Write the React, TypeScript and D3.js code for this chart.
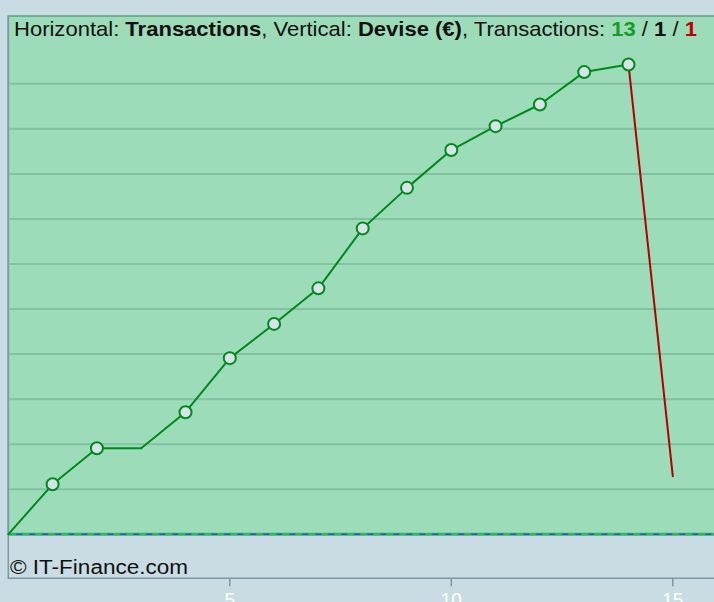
import React, { useEffect, useRef } from 'react';
import * as d3 from 'd3';

// transaction index and running balance (€)
const transactions = [0, 1, 2, 3, 4, 5, 6, 7, 8, 9, 10, 11, 12, 13, 14, 15];
const balance = [0, 111, 191, 191, 271, 391, 467, 546, 679, 769, 853, 906, 954, 1026, 1043, 129];
const gridValues = [100, 200, 300, 400, 500, 600, 700, 800, 900, 1000];
const xTicks = [5, 10, 15];

const W = 714;
const H = 602;

const App: React.FC = () => {
  const svgRef = useRef<SVGSVGElement>(null);

  useEffect(() => {
    if (!svgRef.current) return;
    const svg = d3.select(svgRef.current);
    svg.selectAll('*').remove();

    const left = 8.3;
    const plotTop = 16;
    const zeroY = 534.3;
    const axisY = 578.3;

    const x = d3.scaleLinear().domain([0, 15]).range([left, left + 15 * 44.3]);
    const y = d3.scaleLinear().domain([0, 1000]).range([zeroY, zeroY - 450.5]);

    // page background
    svg.append('rect').attr('width', W).attr('height', H).attr('fill', '#c9dce3');

    // green plot area
    svg.append('rect')
      .attr('x', left)
      .attr('y', plotTop)
      .attr('width', W - left + 2)
      .attr('height', zeroY - plotTop)
      .attr('fill', '#9ddcb8')
      .attr('stroke', '#5f9f82')
      .attr('stroke-width', 1.5);

    // horizontal grid
    svg.append('g')
      .selectAll('line')
      .data(gridValues)
      .enter().append('line')
      .attr('x1', left + 1)
      .attr('x2', W)
      .attr('y1', d => y(d))
      .attr('y2', d => y(d))
      .attr('stroke', '#83c2a0')
      .attr('stroke-width', 2);

    // zero line: green with blue dashes
    svg.append('line')
      .attr('x1', left).attr('x2', W)
      .attr('y1', y(0)).attr('y2', y(0))
      .attr('stroke', '#2fb862').attr('stroke-width', 3);
    svg.append('line')
      .attr('x1', left + 8).attr('x2', W)
      .attr('y1', y(0)).attr('y2', y(0))
      .attr('stroke', '#4646d8').attr('stroke-width', 1.5)
      .attr('stroke-dasharray', '6,7');

    // left + bottom frame
    svg.append('path')
      .attr('d', `M${left},${plotTop} V${axisY} H${W}`)
      .attr('fill', 'none')
      .attr('stroke', '#7d98a3')
      .attr('stroke-width', 1.5);

    // x axis ticks
    const ticks = svg.append('g');
    ticks.selectAll('line')
      .data(xTicks)
      .enter().append('line')
      .attr('x1', d => x(d)).attr('x2', d => x(d))
      .attr('y1', axisY).attr('y2', axisY + 8)
      .attr('stroke', '#7d98a3')
      .attr('stroke-width', 1.5);
    ticks.selectAll('text')
      .data(xTicks)
      .enter().append('text')
      .attr('x', d => x(d))
      .attr('y', axisY + 28)
      .attr('text-anchor', 'middle')
      .attr('fill', '#ffffff')
      .style('font-family', '"Liberation Sans", Arial, sans-serif')
      .style('font-size', '19px')
      .text(d => d);

    // balance line, segment colour by direction
    const pts = transactions.map((t, i) => ({ t, v: balance[i] }));
    const segs = pts.slice(1).map((p, i) => ({ a: pts[i], b: p }));
    svg.append('g')
      .selectAll('line')
      .data(segs)
      .enter().append('line')
      .attr('x1', d => x(d.a.t)).attr('y1', d => y(d.a.v))
      .attr('x2', d => x(d.b.t)).attr('y2', d => y(d.b.v))
      .attr('stroke', d => (d.b.v < d.a.v ? '#b20000' : '#00891c'))
      .attr('stroke-width', 2)
      .attr('stroke-linecap', 'round');

    // markers on winning transactions
    svg.append('g')
      .selectAll('circle')
      .data(segs.filter(d => d.b.v > d.a.v))
      .enter().append('circle')
      .attr('cx', d => x(d.b.t))
      .attr('cy', d => y(d.b.v))
      .attr('r', 6)
      .attr('fill', '#d7e3e9')
      .attr('stroke', '#00891c')
      .attr('stroke-width', 2);

    // header
    const head = svg.append('text')
      .attr('x', 14)
      .attr('y', 36)
      .attr('fill', '#111')
      .attr('textLength', 683)
      .attr('lengthAdjust', 'spacingAndGlyphs')
      .style('font-family', '"Liberation Sans", Arial, sans-serif')
      .style('font-size', '21px');
    const parts: [string, boolean, string][] = [
      ['Horizontal: ', false, '#111'],
      ['Transactions', true, '#111'],
      [', Vertical: ', false, '#111'],
      ['Devise (€)', true, '#111'],
      [', Transactions: ', false, '#111'],
      ['13', true, '#1a9a2a'],
      [' / ', false, '#111'],
      ['1', true, '#111'],
      [' / ', false, '#111'],
      ['1', true, '#c00000'],
    ];
    parts.forEach(([s, b, c]) => {
      head.append('tspan')
        .attr('fill', c)
        .style('font-weight', b ? 'bold' : 'normal')
        .text(s);
    });

    // footer
    svg.append('text')
      .attr('x', 10)
      .attr('y', 574)
      .attr('fill', '#111')
      .attr('textLength', 178)
      .attr('lengthAdjust', 'spacingAndGlyphs')
      .style('font-family', '"Liberation Sans", Arial, sans-serif')
      .style('font-size', '20px')
      .text('© IT-Finance.com');
  }, []);

  return (
    <svg
      ref={svgRef}
      width={W}
      height={H}
      style={{ position: 'absolute', left: 0, top: 0, display: 'block' }}
    />
  );
};

export default App;
